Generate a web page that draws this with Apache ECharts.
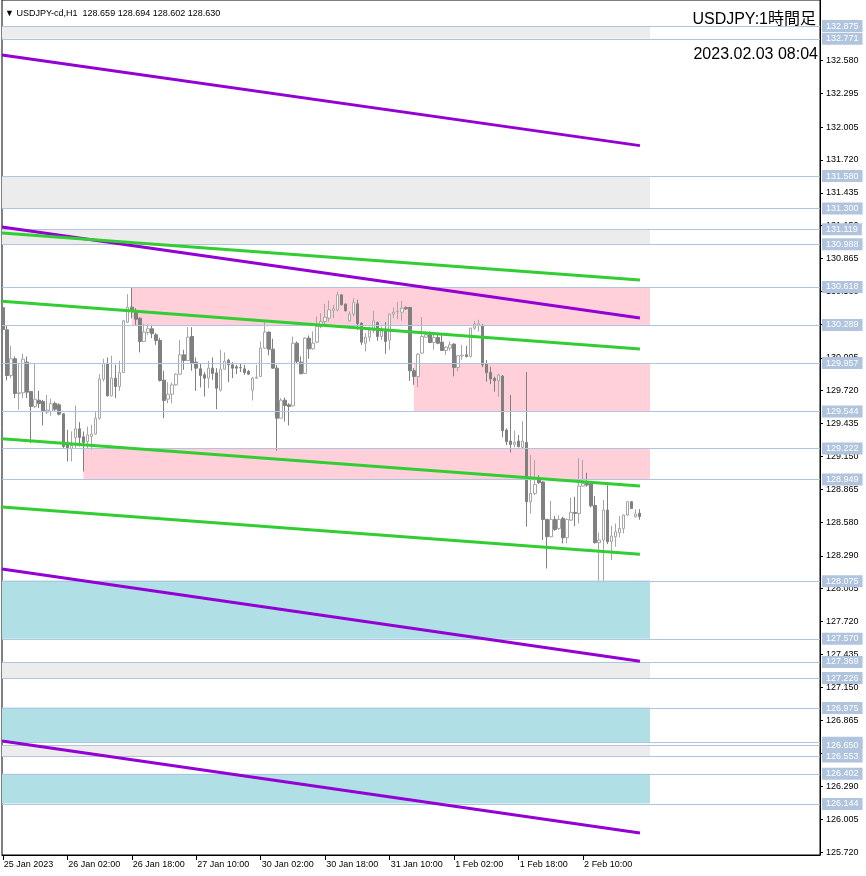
<!DOCTYPE html>
<html><head><meta charset="utf-8">
<script src="https://cdn.jsdelivr.net/npm/echarts@6/dist/echarts.min.js"></script>
<style>html,body{margin:0;padding:0;background:#fff}#c{width:866px;height:876px}</style>
</head><body><div id="c"></div>
<script>
// ---- data ----
const opens = [130.440,130.248,129.852,129.997,129.696,129.702,129.968,129.713,129.584,129.638,129.627,129.534,129.540,129.610,129.598,129.520,129.266,129.217,129.315,129.390,129.321,129.280,129.324,129.344,129.482,129.820,129.956,129.676,129.829,129.757,129.878,130.314,130.444,130.416,130.349,130.147,130.225,130.257,130.205,130.156,129.812,129.647,129.690,129.771,129.864,130.031,129.982,130.190,129.968,129.910,129.858,129.829,129.916,129.875,129.725,129.907,129.985,129.945,129.927,129.922,129.910,129.887,129.725,129.829,129.844,130.089,130.228,130.080,129.916,129.482,129.638,129.598,129.589,130.132,129.968,129.870,130.176,130.083,130.141,130.277,130.320,130.349,130.416,130.421,130.551,130.470,130.326,130.384,130.473,130.306,130.132,130.184,130.242,130.312,130.190,130.239,130.158,130.384,130.404,130.401,130.442,130.442,129.893,129.844,130.046,130.184,130.205,130.138,130.182,130.141,130.069,130.089,130.124,129.922,130.023,130.031,130.017,130.262,130.286,130.286,129.957,129.879,129.827,129.807,129.847,129.379,129.284,129.255,129.284,129.229,129.272,128.758,128.830,128.946,128.929,128.605,128.455,128.605,128.527,128.614,128.446,128.599,128.666,128.657,128.894,128.917,128.911,128.726,128.403,128.426,128.686,128.412,128.455,128.490,128.527,128.643,128.758,128.628,128.659];
const highs = [130.470,130.286,130.109,130.017,129.950,130.040,130.017,129.719,129.956,129.719,129.641,129.685,129.650,129.627,129.612,129.526,129.381,129.367,129.592,129.448,129.367,129.410,129.425,129.540,129.864,129.997,130.008,130.023,129.945,129.979,130.335,130.557,130.618,130.436,130.355,130.297,130.297,130.291,130.219,130.176,129.893,129.794,129.791,129.872,130.161,130.075,130.271,130.271,130.008,129.953,129.881,129.979,130.008,129.916,130.075,130.052,129.997,129.968,129.945,129.959,129.945,129.901,129.841,129.945,130.147,130.314,130.234,130.170,129.945,129.656,129.661,129.612,130.190,130.147,130.017,130.182,130.199,130.234,130.364,130.392,130.473,130.502,130.465,130.580,130.557,130.479,130.407,130.522,130.508,130.312,130.219,130.277,130.413,130.320,130.277,130.314,130.392,130.442,130.488,130.499,130.450,130.447,129.916,130.046,130.358,130.234,130.234,130.205,130.205,130.205,130.104,130.147,130.132,130.026,130.118,130.109,130.268,130.326,130.335,130.297,129.986,129.928,129.842,129.865,129.856,129.394,129.683,129.374,129.336,129.457,129.882,129.163,129.119,128.989,128.937,128.611,128.767,128.634,128.640,128.628,128.614,128.793,128.801,129.134,129.119,129.010,128.923,128.807,128.490,128.773,128.900,128.550,128.570,128.634,128.648,128.764,128.764,128.692,128.694];
const lows = [130.160,129.809,129.829,129.656,129.555,129.656,129.656,129.266,129.569,129.569,129.419,129.517,129.503,129.540,129.506,129.222,129.107,129.107,129.222,129.237,129.020,129.222,129.208,129.338,129.468,129.800,129.670,129.670,129.656,129.719,129.872,130.306,130.349,130.291,130.052,130.141,130.205,130.176,130.118,129.800,129.482,129.612,129.612,129.763,129.858,129.901,129.979,129.893,129.719,129.748,129.670,129.742,129.815,129.560,129.713,129.901,129.794,129.829,129.864,129.881,129.858,129.858,129.636,129.823,129.838,130.083,130.026,129.910,129.202,129.482,129.453,129.419,129.584,129.959,129.864,129.867,129.997,130.075,130.132,130.262,130.277,130.320,130.349,130.407,130.459,130.407,130.320,130.364,130.248,130.118,130.060,130.147,130.219,130.153,130.161,130.040,130.075,130.349,130.340,130.326,130.421,129.806,129.771,129.751,130.040,130.176,130.132,130.075,130.124,130.066,130.031,130.066,129.844,129.887,129.988,130.008,130.008,130.248,130.234,129.924,129.798,129.778,129.712,129.668,129.316,129.249,129.183,129.229,129.229,129.220,128.542,128.657,128.816,128.911,128.426,128.180,128.449,128.507,128.513,128.397,128.397,128.591,128.547,128.570,128.888,128.888,128.709,128.397,128.074,128.074,128.391,128.253,128.368,128.449,128.484,128.634,128.695,128.622,128.602];
const closes = [130.250,129.852,129.997,129.696,129.702,129.994,129.708,129.584,129.647,129.610,129.546,129.552,129.607,129.560,129.517,129.237,129.217,129.246,129.390,129.315,129.272,129.338,129.344,129.482,129.820,129.956,129.676,129.829,129.757,129.878,130.326,130.444,130.407,130.340,130.147,130.228,130.257,130.216,130.156,129.809,129.636,129.690,129.771,129.864,130.031,129.982,130.184,129.959,129.916,129.852,129.829,129.916,129.870,129.742,129.907,129.976,129.945,129.916,129.916,129.919,129.878,129.864,129.829,129.838,130.089,130.228,130.080,129.916,129.482,129.638,129.592,129.584,130.132,129.973,129.867,130.176,130.083,130.132,130.277,130.320,130.358,130.421,130.430,130.551,130.465,130.413,130.384,130.485,130.300,130.141,130.184,130.242,130.326,130.190,130.239,130.147,130.384,130.401,130.407,130.436,130.430,129.893,129.844,130.037,130.190,130.205,130.138,130.182,130.132,130.069,130.098,130.118,129.922,130.023,130.028,130.017,130.262,130.297,130.300,129.945,129.876,129.821,129.807,129.856,129.374,129.278,129.255,129.272,129.235,129.284,128.758,128.830,128.908,128.923,128.605,128.455,128.605,128.518,128.605,128.446,128.605,128.666,128.657,128.894,128.917,128.903,128.723,128.403,128.426,128.686,128.412,128.461,128.498,128.527,128.643,128.758,128.700,128.651,128.630];

const timeLabelBars = [0,16,32,48,64,80,96,112,128,144];
const timeLabels = ['25 Jan 2023','26 Jan 02:00','26 Jan 18:00','27 Jan 10:00','30 Jan 02:00','30 Jan 18:00','31 Jan 10:00','1 Feb 02:00','1 Feb 18:00','2 Feb 10:00'];
const priceTicks = [125.720,126.005,126.290,126.580,126.865,127.150,127.435,127.720,128.005,128.290,128.580,128.865,129.150,129.435,129.720,130.005,130.295,130.580,130.865,131.150,131.435,131.720,132.005,132.295,132.580];

const levels = [132.875,132.771,131.580,131.300,131.119,130.988,130.618,130.289,129.957,129.544,129.222,128.949,128.075,127.570,127.369,127.226,126.975,126.673,126.650,126.553,126.402,126.144];

const greyZoneTop = [132.875,131.580,131.119,127.369,126.650];
const greyZoneBottom = [132.771,131.300,130.988,127.226,126.553];
const pinkZoneTop = [130.618,129.957,129.222];
const pinkZoneBottom = [130.289,129.544,128.949];
const pinkZoneStartBar = [32,102,20];
const cyanZoneTop = [128.075,126.975,126.402];
const cyanZoneBottom = [127.570,126.673,126.144];
const zoneEndBar = 160.6;

const trendStartBar = -0.2, trendEndBar = 158.1;
const purpleStart = [132.630,131.139,128.175,126.685];
const purpleEnd = [131.844,130.350,127.375,125.887];
const greenStart = [131.087,130.495,129.304,128.712];
const greenEnd = [130.680,130.082,128.894,128.303];

const symbolName = 'USDJPY-cd,H1';
const lastPrice = 128.630;
const titleText = 'USDJPY:1時間足';
const dateText = '2023.02.03 08:04';

// ---- chart ----
const X_MIN = -0.2, X_MAX = 202.78, Y_MIN = 125.697, Y_MAX = 133.106;
const F = "'Liberation Sans', Arial, sans-serif";
const chart = echarts.init(document.getElementById('c'), null, {renderer: 'canvas'});

const candleData = opens.map((o, i) => [i, o, closes[i], lows[i], highs[i]]);

const zones = [];
greyZoneTop.forEach((t, k) => zones.push([{xAxis: X_MIN, yAxis: t, itemStyle: {color: '#ECECEC'}}, {xAxis: zoneEndBar, yAxis: greyZoneBottom[k]}]));
pinkZoneTop.forEach((t, k) => zones.push([{xAxis: pinkZoneStartBar[k], yAxis: t, itemStyle: {color: '#FFD0DA'}}, {xAxis: zoneEndBar, yAxis: pinkZoneBottom[k]}]));
cyanZoneTop.forEach((t, k) => zones.push([{xAxis: X_MIN, yAxis: t, itemStyle: {color: '#B0E0E6'}}, {xAxis: zoneEndBar, yAxis: cyanZoneBottom[k]}]));

const trendSeries = [];
purpleStart.forEach((p, k) => trendSeries.push({
  type: 'line', data: [[trendStartBar, p], [trendEndBar, purpleEnd[k]]], symbol: 'none', silent: true, z: 5,
  lineStyle: {color: '#9400D3', width: 3}
}));
greenStart.forEach((p, k) => trendSeries.push({
  type: 'line', data: [[trendStartBar, p], [trendEndBar, greenEnd[k]]], symbol: 'none', silent: true, z: 5,
  lineStyle: {color: '#32CD32', width: 3}
}));

const option = {
  animation: false,
  title: [
    {text: '▼ ' + symbolName + '  ' + [opens[158], highs[158], lows[158], closes[158]].map(v => v.toFixed(3)).join(' '),
     left: 5, top: 9, padding: 0, textStyle: {fontSize: 9, fontWeight: 'normal', color: '#000', fontFamily: F, lineHeight: 10}},
    {text: titleText, right: 50, top: 12, padding: 0,
     textStyle: {fontSize: 16, fontWeight: 'normal', color: '#000', fontFamily: "'Liberation Sans', 'Noto Sans CJK JP', sans-serif", lineHeight: 16}},
    {text: dateText, right: 48, top: 47, padding: 0,
     textStyle: {fontSize: 16, fontWeight: 'normal', color: '#000', fontFamily: F, lineHeight: 16}}
  ],
  grid: {left: 2, right: 46, top: 0, bottom: 21, show: true, borderColor: '#000', borderWidth: 1, backgroundColor: 'transparent'},
  xAxis: {
    type: 'value', min: X_MIN, max: X_MAX,
    axisLine: {show: true, onZero: false, lineStyle: {color: '#000'}},
    splitLine: {show: false},
    axisTick: {show: true, customValues: timeLabelBars, length: 5, lineStyle: {color: '#000'}},
    axisLabel: {customValues: timeLabelBars, color: '#000', fontSize: 9, fontFamily: F, align: 'left', margin: 5, padding: [0, 0, 0, 1],
      formatter: v => { const k = timeLabelBars.indexOf(Math.round(v)); return k >= 0 ? timeLabels[k] : ''; }}
  },
  yAxis: {
    type: 'value', position: 'right', min: Y_MIN, max: Y_MAX,
    axisLine: {show: true, onZero: false, lineStyle: {color: '#000'}},
    splitLine: {show: false},
    axisTick: {show: true, customValues: priceTicks, length: 3, lineStyle: {color: '#000'}},
    axisLabel: {customValues: priceTicks, color: '#000', fontSize: 9, fontFamily: F, margin: 6,
      formatter: v => v.toFixed(3)}
  },
  series: [
    {type: 'line', data: [], silent: true, z: 1,
     markArea: {silent: true, data: zones}},
    {type: 'candlestick', data: candleData, encode: {x: 0, y: [1, 2, 3, 4]}, barWidth: 3, z: 3, silent: true,
     itemStyle: {color: '#FFFFFF', borderColor: '#A6A6A6', color0: '#808080', borderColor0: '#808080', borderWidth: 1}},
    {type: 'line', data: [], silent: true, z: 4,
     markLine: {silent: true, symbol: 'none', animation: false,
       lineStyle: {color: '#B0C4DE', width: 1, type: 'solid'},
       label: {show: true, position: 'end', distance: 2, formatter: '{b}',
         backgroundColor: '#B0C4DE', color: '#FFFFFF', fontSize: 9, fontFamily: F, padding: [2, 4, 1, 4]},
       data: levels.map(v => ({yAxis: v, name: v.toFixed(3)}))}},
    ...trendSeries,
    {type: 'line', data: [], silent: true, z: 6,
     markLine: {silent: true, symbol: 'none', animation: false,
       lineStyle: {opacity: 0},
       label: {show: true, position: 'end', distance: 2, formatter: '{b}',
         backgroundColor: '#000000', color: '#FFFFFF', fontSize: 9, fontFamily: F, padding: [2, 4, 1, 4]},
       data: [{yAxis: lastPrice, name: lastPrice.toFixed(3)}]}}
  ]
};
chart.setOption(option);
</script></body></html>
